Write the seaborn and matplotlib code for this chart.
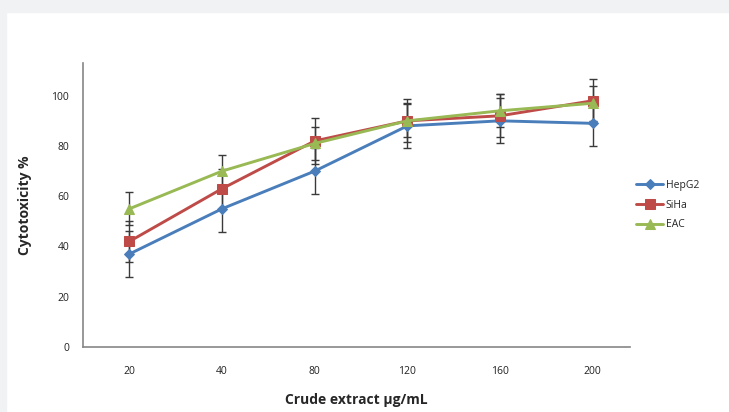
import matplotlib
matplotlib.use('Agg')
import matplotlib.pyplot as plt
import numpy as np
import pandas as pd
import seaborn as sns
from matplotlib.patches import Rectangle

sns.set_style('white')
plt.rcParams['font.family'] = ['Open Sans', 'DejaVu Sans']

conc = ['20', '40', '80', '120', '160', '200']
hepg2 = [37, 55, 70, 88, 90, 89]
siha = [42, 63, 82, 90, 92, 98]
eac = [55, 70, 81, 90, 94, 97]
hepg2_err = [9, 9.3, 9, 9, 9, 9]
siha_err = [8, 8, 9, 8.5, 8.5, 8.5]
eac_err = [6.5, 6.3, 6.5, 6.5, 6.5, 7]

names = ['HepG2', 'SiHa', 'EAC']
colors = ['#4a7ebb', '#be4b48', '#98b954']
markers = ['D', 's', '^']
msizes = [5, 7, 7]

fig = plt.figure(figsize=(7.29, 4.12), dpi=100)
ax = fig.add_axes([0.1139, 0.1578, 0.864 - 0.1139, 0.847 - 0.1578])

pos = np.arange(len(conc))
for name, vals, errs, c, m, ms in zip(names, [hepg2, siha, eac],
                                      [hepg2_err, siha_err, eac_err],
                                      colors, markers, msizes):
    ax.errorbar(pos, vals, yerr=errs, fmt='none', ecolor='#3a3a3a',
                elinewidth=1, capsize=3, capthick=1, zorder=2)
    df = pd.DataFrame({'x': pos, 'y': vals})
    sns.lineplot(data=df, x='x', y='y', ax=ax, color=c, marker=m,
                 markersize=ms, markeredgecolor=c, linewidth=2.1,
                 label=name, zorder=3)

ax.set_xlim(-0.5, 5.4)
ax.set_ylim(0, 113)
ax.set_xticks(pos)
ax.set_xticklabels(conc)
ax.set_yticks([0, 20, 40, 60, 80, 100])
ax.tick_params(length=0, labelsize=7.5, colors='#222222')
ax.tick_params(axis='x', pad=14)
ax.tick_params(axis='y', pad=10)

for s in ['top', 'right']:
    ax.spines[s].set_visible(False)
for s in ['left', 'bottom']:
    ax.spines[s].set_color('#868686')
    ax.spines[s].set_linewidth(1.2)

ax.set_xlabel('Crude extract µg/mL', fontsize=10, fontweight='bold', labelpad=11)
ax.set_ylabel('Cytotoxicity %', fontsize=10, fontweight='bold', labelpad=14)

leg = ax.legend(loc='center left', bbox_to_anchor=(0.995, 0.50), frameon=False,
                fontsize=7.5, handlelength=2.5, handletextpad=0.3,
                labelspacing=0.85)

# grey page border
fig.patches.append(Rectangle((0, 1 - 12 / 412), 1, 12 / 412,
                             transform=fig.transFigure, color='#f1f2f4', zorder=0))
fig.patches.append(Rectangle((0, 0), 6 / 729, 1,
                             transform=fig.transFigure, color='#f1f2f4', zorder=0))

fig.savefig('out.png', dpi=100)
